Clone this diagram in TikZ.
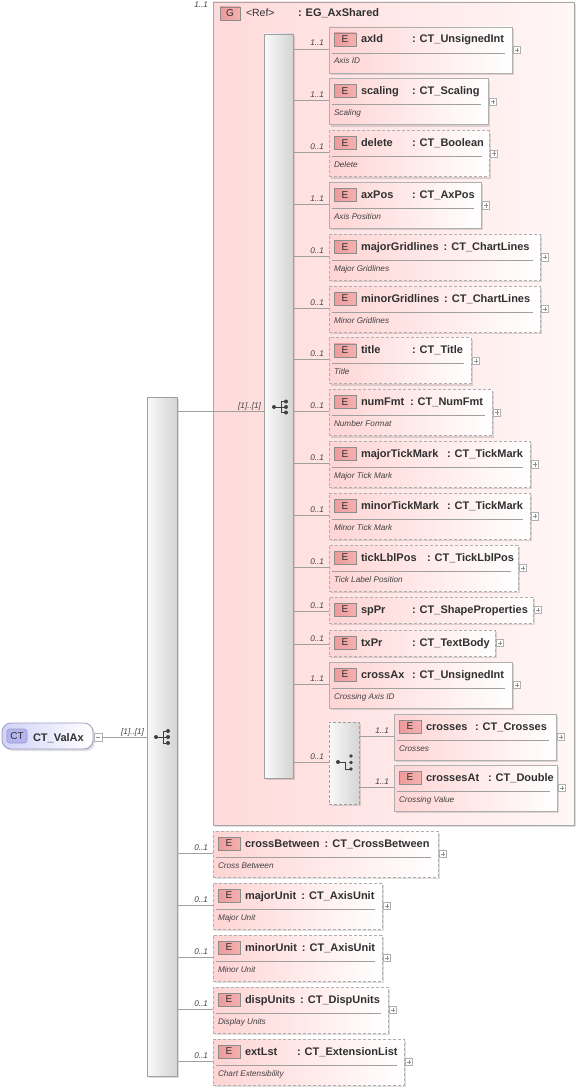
\documentclass[tikz,border=0pt]{standalone}
\usepackage{fontspec}
\setmainfont{Liberation Sans}
\usetikzlibrary{shadows}
\definecolor{lineg}{HTML}{A0A0A0}
\definecolor{boxb}{HTML}{B0B0B0}
\definecolor{elpink}{HTML}{FFD4D4}
\definecolor{grpL}{HTML}{FFDADA}
\definecolor{grpR}{HTML}{FFF6F6}
\definecolor{grpb}{HTML}{A8A8A8}
\definecolor{badgeL}{HTML}{EE9A9A}
\definecolor{badgeM}{HTML}{FFE6E6}
\definecolor{badgeR}{HTML}{F4B0B0}
\definecolor{badgeb}{HTML}{8C8C8C}
\definecolor{barL}{HTML}{FAFAFA}
\definecolor{barR}{HTML}{D4D4D4}
\definecolor{ctL}{HTML}{D2D2FA}
\definecolor{ctb}{HTML}{9C9CC4}
\definecolor{ctbadge}{HTML}{B4B4F0}
\definecolor{txt}{HTML}{303030}
\definecolor{symc}{HTML}{404040}
\definecolor{plusc}{HTML}{909090}
\tikzset{
  every node/.style={inner sep=0pt, outer sep=0pt, text=txt},
  conn/.style={draw=lineg, line width=0.8pt},
  shad/.style={drop shadow={shadow xshift=2pt, shadow yshift=-2pt, fill=black, opacity=0.13}},
  elbox/.style={draw=boxb, line width=0.8pt, left color=elpink, right color=white, shad},
  optbox/.style={dash pattern=on 3pt off 2pt},
  reqbox/.style={},
  grpbox/.style={draw=grpb, line width=0.8pt, left color=grpL, right color=grpR, shad},
  barbox/.style={draw=lineg, line width=0.8pt, left color=barL, right color=barR, shad},
  ebadge/.style={draw=badgeb, line width=0.6pt, left color=badgeL, middle color=badgeM, right color=badgeR, minimum width=22pt, minimum height=13pt, font=\fontsize{10}{10}\selectfont},
  nmfont/.style={font=\fontsize{11}{12}\selectfont\bfseries},
  descfont/.style={font=\fontsize{8.2}{9}\selectfont\itshape, text=symc},
  multl/.style={font=\fontsize{8.2}{9}\selectfont\itshape, text=symc},
  divider/.style={draw=lineg, line width=0.7pt},
  plusbtn/.style={draw=boxb, fill=white, line width=0.6pt, minimum size=7.5pt,
    path picture={\draw[plusc, line width=0.6pt]
      ([xshift=-2.2pt]path picture bounding box.center) -- ([xshift=2.2pt]path picture bounding box.center)
      ([yshift=-2.2pt]path picture bounding box.center) -- ([yshift=2.2pt]path picture bounding box.center);}},
  minusbtn/.style={draw=boxb, fill=white, line width=0.6pt, minimum size=8pt,
    path picture={\draw[plusc, line width=0.6pt]
      ([xshift=-2.2pt]path picture bounding box.center) -- ([xshift=2.2pt]path picture bounding box.center);}},
}
% name then type, the colon at x = max(colon column, end of name + gap)
\newcommand\NameType[4]{% #1 name #2 type #3 colon x #4 box left
  \sbox0{#1}%
  \dimen0=\dimexpr #3pt-#4pt-32pt\relax
  \ifdim\dimexpr\wd0+5pt\relax>\dimen0 \dimen0=\dimexpr\wd0+5pt\relax\fi
  \hbox to\dimen0{\box0\hfil}: #2}
% #1 name #2 type #3 colon x #4 left #5 top #6 right #7 description #8 multiplicity #9 style
\newcommand\Elem[9]{%
  \def\elemdesc{#7}%
  \ifx\elemdesc\empty\def\elH{26}\def\elC{14}\else\def\elH{46}\def\elC{22}\fi
  \node[elbox,#9,anchor=north west,minimum width=#6pt-#4pt,minimum height=\elH pt] (#1) at (#4,#5) {};
  \node[ebadge,anchor=north west] (#1-b) at (#4+5,#5+6) {E};
  \node[nmfont,anchor=base west] (#1-n) at (#4+32,#5+16) {\NameType{#1}{#2}{#3}{#4}};
  \ifx\elemdesc\empty\else
    \draw[divider] (#4+3,#5+26) -- (#6-7,#5+26);
    \node[descfont,anchor=base west] (#1-d) at (#4+5,#5+37) {#7};
  \fi
  \node[plusbtn] (#1-p) at (#6+5,#5+\elH/2) {};
  \coordinate (#1-in) at (#4,#5+\elC);
  \draw[conn] (\curbar.east |- #1-in) -- (#1-in);
  \node[multl,anchor=base east] (#1-m) at (#4-5,#5+\elC-3) {#8};
}
% #1 x #2 y #3 spacing
\newcommand\SeqSym[3]{%
  \draw[symc,line width=0.9pt] (#1,#2) -- (#1+7,#2) (#1+7,#2-#3) -- (#1+7,#2+#3)
     (#1+7,#2-#3) -- (#1+12,#2-#3) (#1+7,#2) -- (#1+12,#2) (#1+7,#2+#3) -- (#1+12,#2+#3);
  \fill[symc] (#1,#2) circle (2) (#1+12,#2-#3) circle (2) (#1+12,#2) circle (2) (#1+12,#2+#3) circle (2);
}
\begin{document}
\begin{tikzpicture}[x=1pt,y=-1pt]
\useasboundingbox (0,0) rectangle (579,1089);

% group box
\node[grpbox,anchor=north west,minimum width=361pt,minimum height=823pt] (grp) at (213,2) {};
\node[ebadge,anchor=north west,minimum width=20pt] (grp-b) at (220,7) {G};
\node[font=\fontsize{10.5}{12}\selectfont,anchor=base west] (grp-r) at (246,17) {<Ref>};
\node[nmfont,anchor=base west] (grp-t) at (298,17) {: EG\_AxShared};
\node[multl,anchor=base east] (grp-m) at (208,8) {1..1};

% bars
\node[barbox,anchor=north west,minimum width=30pt,minimum height=679pt] (mainbar) at (147,397) {};
\node[barbox,anchor=north west,minimum width=29pt,minimum height=744pt] (inner) at (264,34) {};
\SeqSym{156}{737}{6}
\SeqSym{274}{407}{5.5}

% root
\node[draw=ctb,line width=0.8pt,left color=ctL,right color=white,rounded corners=9pt,anchor=north west,minimum width=91pt,minimum height=26pt,shad] (valax) at (2,723) {};
\node[draw=ctb,line width=0.7pt,fill=ctbadge,rounded corners=3pt,anchor=north west,minimum width=20pt,minimum height=14pt,font=\fontsize{10}{10}\selectfont] (valax-b) at (7,729) {CT};
\node[font=\fontsize{11}{12}\selectfont\bfseries,anchor=base west] (valax-n) at (33,741) {CT\_ValAx};
\node[minusbtn] (valax-btn) at (98,737.5) {};
\draw[conn] (valax-btn.east) -- (mainbar.west |- valax-btn.east);
\node[multl,anchor=base east] (valax-m) at (144,734) {[1]..[1]};

% main bar to inner sequence
\coordinate (inner-in) at (264,411);
\draw[conn] (mainbar.east |- inner-in) -- (inner-in);
\node[multl,anchor=base east] (inner-m) at (261,408) {[1]..[1]};

\def\curbar{inner}
\Elem{axId}{CT\_UnsignedInt}{412}{329}{27}{512}{Axis ID}{1..1}{reqbox}
\Elem{scaling}{CT\_Scaling}{412}{329}{78.8}{488}{Scaling}{1..1}{reqbox}
\Elem{delete}{CT\_Boolean}{412}{329}{130.6}{489}{Delete}{0..1}{optbox}
\Elem{axPos}{CT\_AxPos}{412}{329}{182.4}{481}{Axis Position}{1..1}{reqbox}
\Elem{majorGridlines}{CT\_ChartLines}{441}{329}{234.2}{540}{Major Gridlines}{0..1}{optbox}
\Elem{minorGridlines}{CT\_ChartLines}{441}{329}{286}{540}{Minor Gridlines}{0..1}{optbox}
\Elem{title}{CT\_Title}{412}{329}{337.8}{471}{Title}{0..1}{optbox}
\Elem{numFmt}{CT\_NumFmt}{410}{329}{389.6}{492}{Number Format}{0..1}{optbox}
\Elem{majorTickMark}{CT\_TickMark}{447}{329}{441.4}{530}{Major Tick Mark}{0..1}{optbox}
\Elem{minorTickMark}{CT\_TickMark}{447}{329}{493.2}{530}{Minor Tick Mark}{0..1}{optbox}
\Elem{tickLblPos}{CT\_TickLblPos}{427}{329}{545}{518}{Tick Label Position}{0..1}{optbox}
\Elem{spPr}{CT\_ShapeProperties}{412}{329}{597}{533}{}{0..1}{optbox}
\Elem{txPr}{CT\_TextBody}{412}{329}{630}{495}{}{0..1}{optbox}
\Elem{crossAx}{CT\_UnsignedInt}{412}{329}{662}{512}{Crossing Axis ID}{1..1}{reqbox}

% choice
\node[barbox,optbox,anchor=north west,minimum width=30pt,minimum height=82pt] (choice) at (329,722) {};
\coordinate (choice-in) at (329,762);
\draw[conn] (inner.east |- choice-in) -- (choice-in);
\node[multl,anchor=base east] (choice-m) at (324,759) {0..1};
\draw[symc,line width=0.9pt] (338,762) -- (345,762) -- (345,769) -- (351,769);
\fill[symc] (338,762) circle (2) (351,756) circle (1.9) (351,762.5) circle (1.9) (351,769) circle (1.9);

\def\curbar{choice}
\Elem{crosses}{CT\_Crosses}{475}{394}{714}{556}{Crosses}{1..1}{reqbox}
\Elem{crossesAt}{CT\_Double}{488}{394}{765}{557}{Crossing Value}{1..1}{reqbox}

\def\curbar{mainbar}
\Elem{crossBetween}{CT\_CrossBetween}{324}{213}{831}{438}{Cross Between}{0..1}{optbox}
\Elem{majorUnit}{CT\_AxisUnit}{297}{213}{883}{382}{Major Unit}{0..1}{optbox}
\Elem{minorUnit}{CT\_AxisUnit}{297}{213}{935}{382}{Minor Unit}{0..1}{optbox}
\Elem{dispUnits}{CT\_DispUnits}{295}{213}{987}{388}{Display Units}{0..1}{optbox}
\Elem{extLst}{CT\_ExtensionList}{297}{213}{1039}{404}{Chart Extensibility}{0..1}{optbox}
\end{tikzpicture}
\end{document}
